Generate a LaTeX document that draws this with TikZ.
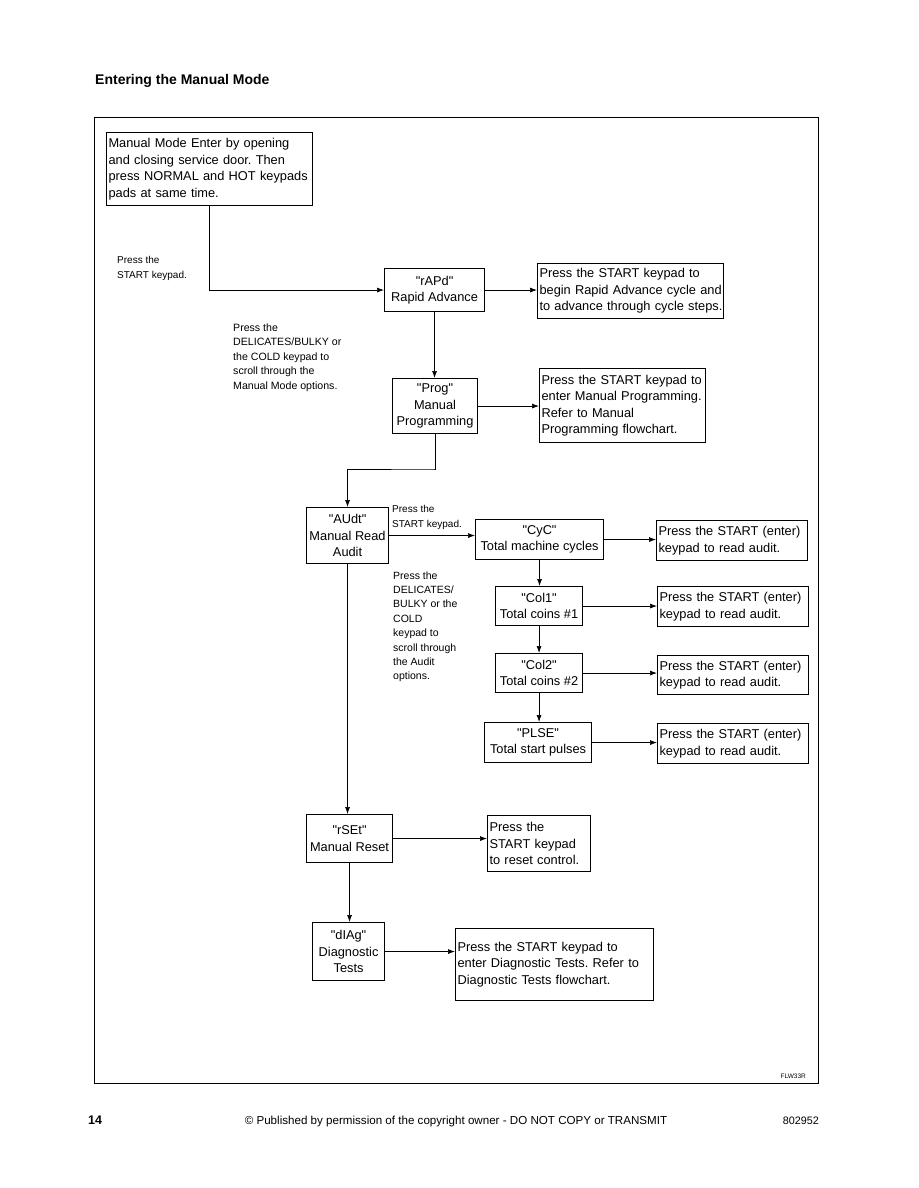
\documentclass[tikz,border=0pt]{standalone}
\usepackage{fontspec}
\setmainfont{Liberation Sans}
\usetikzlibrary{arrows.meta}
\newcommand{\qq}{\textquotedbl}
\newcommand{\rl}[1]{\mbox{#1}}
\hbadness=10000 \hfuzz=20pt
\begin{document}
\begin{tikzpicture}[x=1pt,y=-1pt,
  boxc/.style={draw, line width=1.1pt, anchor=north west, inner xsep=2pt, inner ysep=2pt,
     align=center, font=\fontsize{12.8}{16.5}\selectfont\frenchspacing},
  boxl/.style={draw, line width=1.1pt, anchor=north west, inner xsep=2pt, inner ysep=2pt,
     align=left, font=\fontsize{12.8}{16.5}\selectfont\frenchspacing},
  lbl/.style={anchor=north west, inner sep=0pt, align=left},
  conn/.style={line width=0.7pt, -{Latex[length=7pt,width=5pt]}}]
\useasboundingbox (0,0) rectangle (918,1188);
% title and frame
\node[anchor=base west, inner sep=0pt, font=\fontsize{14}{16}\selectfont\bfseries] (title) at (95,85) {Entering the Manual Mode};
\draw[line width=1pt] (94,118) rectangle (818,1083);
% boxes placed by (left,top)
\node[boxl, text width=202pt, minimum height=73pt] (mm) at (106,132)
  {\rl{Manual Mode Enter by opening}\\\rl{and closing service door. Then}\\\rl{press NORMAL and HOT keypads}\\\rl{pads at same time.}};
\node[boxc, minimum width=100pt, minimum height=43pt] (rapd) at (384,268) {\qq rAPd\qq\\Rapid Advance};
\node[boxl, text width=182pt, minimum height=55pt] (rapdT) at (537,263)
  {\rl{Press the START keypad to}\\\rl{begin Rapid Advance cycle and}\\\rl{to advance through cycle steps.}};
\node[boxc, minimum width=85pt, minimum height=55pt] (prog) at (392,378) {\qq Prog\qq\\Manual\\Programming};
\node[boxl, text width=162pt, minimum height=74pt] (progT) at (539,368)
  {\rl{Press the START keypad to}\\\rl{enter Manual Programming.}\\\rl{Refer to Manual}\\\rl{Programming flowchart.}};
\node[boxc, minimum width=82pt, minimum height=56pt] (audt) at (306,507) {\qq AUdt\qq\\Manual Read\\Audit};
\node[boxc, minimum width=128pt, minimum height=40pt] (cyc) at (475,519) {\qq CyC\qq\\Total machine cycles};
\node[boxc, minimum width=87pt, minimum height=39pt] (col1) at (495,586) {\qq Col1\qq\\Total coins \#1};
\node[boxc, minimum width=87pt, minimum height=39pt] (col2) at (495,653) {\qq Col2\qq\\Total coins \#2};
\node[boxc, minimum width=107pt, minimum height=40pt] (plse) at (484,722) {\qq PLSE\qq\\Total start pulses};
\node[boxl, text width=147pt, minimum height=40pt] (a1) at (656,520) {\rl{Press the START (enter)}\\\rl{keypad to read audit.}};
\node[boxl, text width=147pt, minimum height=40pt] (a2) at (657,586) {\rl{Press the START (enter)}\\\rl{keypad to read audit.}};
\node[boxl, text width=147pt, minimum height=39pt] (a3) at (657,655) {\rl{Press the START (enter)}\\\rl{keypad to read audit.}};
\node[boxl, text width=147pt, minimum height=40pt] (a4) at (657,723) {\rl{Press the START (enter)}\\\rl{keypad to read audit.}};
\node[boxc, minimum width=86pt, minimum height=48pt] (rset) at (306,814) {\qq rSEt\qq\\Manual Reset};
\node[boxl, text width=99pt, minimum height=56pt] (rsetT) at (487,815) {\rl{Press the}\\\rl{START keypad}\\\rl{to reset control.}};
\node[boxc, minimum width=72pt, minimum height=58pt] (diag) at (312,922) {\qq dIAg\qq\\Diagnostic\\Tests};
\node[boxl, text width=194pt, minimum height=72pt] (diagT) at (455,928)
  {\rl{Press the START keypad to}\\\rl{enter Diagnostic Tests. Refer to}\\\rl{Diagnostic Tests flowchart.}};
% labels
\node[lbl, font=\fontsize{10}{15}\selectfont] (l1) at (117,255.7) {Press the\\START keypad.};
\node[lbl, font=\fontsize{10.6}{14.5}\selectfont] (l2) at (233,323.3) {Press the\\DELICATES/BULKY or\\the COLD keypad to\\scroll through the\\Manual Mode options.};
\node[lbl, font=\fontsize{10}{15}\selectfont] (l3) at (392,504.7) {Press the\\START keypad.};
\node[lbl, font=\fontsize{10.5}{14.4}\selectfont] (l4) at (393,571.3) {Press the\\DELICATES/\\BULKY or the\\COLD\\keypad to\\scroll through\\the Audit\\options.};
\node[anchor=base east, inner sep=0pt, font=\fontsize{6.5}{8}\selectfont] (flw) at (806,1078) {FLW33R};
% footer
\node[anchor=base west, inner sep=0pt, font=\fontsize{12.5}{14}\selectfont\bfseries] (pg) at (88,1124) {14};
\node[anchor=base, inner sep=0pt, font=\fontsize{11.6}{13}\selectfont] (copy) at (456,1124)
  {© Published by permission of the copyright owner - DO NOT COPY or TRANSMIT};
\node[anchor=base east, inner sep=0pt, font=\fontsize{10.8}{12}\selectfont] (num) at (819,1124) {802952};
% connectors
\draw[conn] (mm.south) |- (rapd.west);
\draw[conn] (rapd.east) -- (rapd.east -| rapdT.west);
\draw[conn] (rapd.south) -- (rapd.south |- prog.north);
\draw[conn] (prog.east) -- (prog.east -| progT.west);
\coordinate (bend) at (434,469);
\draw[conn] (prog.south) |- (bend) -| (audt.north);
\draw[conn] (audt.east) -- (audt.east -| cyc.west);
\draw[conn] (cyc.south) -- (cyc.south |- col1.north);
\draw[conn] (col1.south) -- (col1.south |- col2.north);
\draw[conn] (col2.south) -- (col2.south |- plse.north);
\draw[conn] (cyc.east) -- (cyc.east -| a1.west);
\draw[conn] (col1.east) -- (col1.east -| a2.west);
\draw[conn] (col2.east) -- (col2.east -| a3.west);
\draw[conn] (plse.east) -- (plse.east -| a4.west);
\draw[conn] (audt.south) -- (audt.south |- rset.north);
\draw[conn] (rset.east) -- (rset.east -| rsetT.west);
\draw[conn] (rset.south) -- (rset.south |- diag.north);
\draw[conn] (diag.east) -- (diag.east -| diagT.west);
\end{tikzpicture}
\end{document}
